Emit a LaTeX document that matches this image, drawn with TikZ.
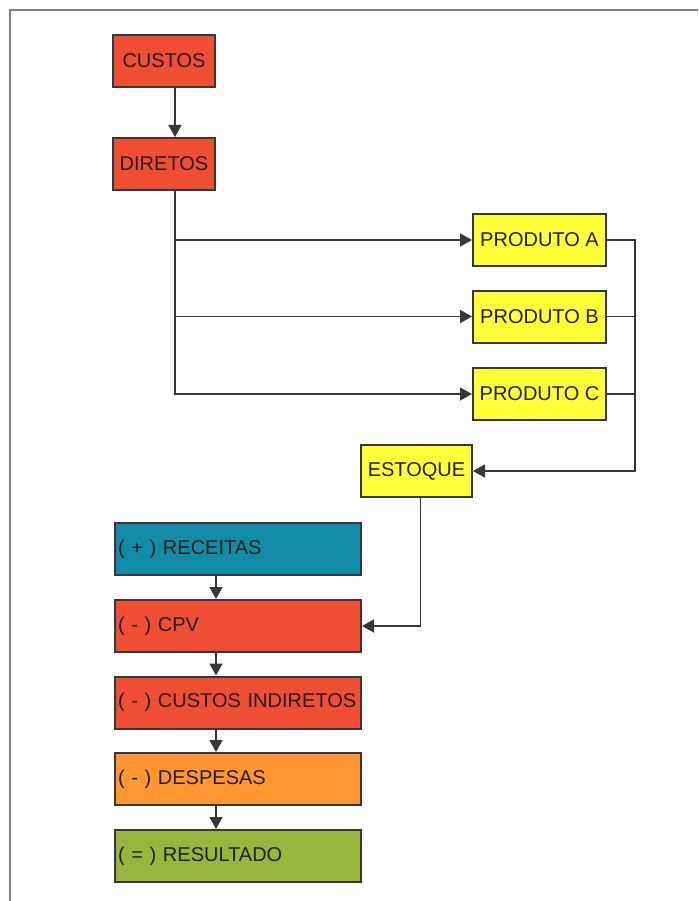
\documentclass[tikz,border=0pt]{standalone}
\usepackage{fontspec}
\setmainfont{Liberation Sans}
\usetikzlibrary{arrows.meta}
\usetikzlibrary{positioning}

\definecolor{boxred}{RGB}{240,78,52}
\definecolor{boxyellow}{RGB}{255,255,56}
\definecolor{boxteal}{RGB}{18,140,166}
\definecolor{boxorange}{RGB}{255,150,50}
\definecolor{boxgreen}{RGB}{152,182,60}
\definecolor{linegray}{RGB}{55,55,55}
\definecolor{textdark}{RGB}{35,30,30}

\tikzset{
	box/.style={rectangle,draw=linegray,line width=2pt,inner sep=0pt,
		text=textdark,font=\fontsize{20}{24}\selectfont},
	topbox/.style={box,fill=boxred,minimum width=102pt,minimum height=52pt},
	prodbox/.style={box,fill=boxyellow,minimum width=133pt,minimum height=52pt},
	dre/.style={box,minimum height=52pt,text width=240pt,inner xsep=3pt,align=left},
	arr/.style={draw=linegray,line width=1.6pt,-{Triangle[length=12pt,width=13pt]}},
	con/.style={draw=linegray,line width=1.6pt}
}

\begin{document}
\begin{tikzpicture}
	[x=1pt,y=-1pt]
	\useasboundingbox (0,0) rectangle (698,901);
	\draw[con,draw=gray] (698,10) -- (10,10) -- (10,901);

	\node[topbox] (custos) at (164,61) {CUSTOS};
	\node[topbox] (diretos) at (164,164) {DIRETOS};

	\node[prodbox] (prodA) at (539.5,240) {PRODUTO A};
	\node[prodbox] (prodB) at (539.5,316.5) {PRODUTO B};
	\node[prodbox] (prodC) at (539.5,394) {PRODUTO C};
	\node[prodbox,minimum width=111pt] (estoque) at (416.5,471) {ESTOQUE};
	\coordinate (bus) at (635,471);

	\node[dre,fill=boxteal] (rec) at (238,549) {( + ) RECEITAS};
	\node[dre,fill=boxred] (cpv) at (238,626) {( - ) CPV};
	\node[dre,fill=boxred] (ind) at (238,702.5) {( - ) CUSTOS INDIRETOS};
	\node[dre,fill=boxorange] (desp) at (238,779) {( - ) DESPESAS};
	\node[dre,fill=boxgreen] (res) at (238,856) {( = ) RESULTADO};

	\draw[arr] ([xshift=11pt]custos.south) -- ([xshift=11pt]diretos.north);
	\foreach \p in {prodA,prodB,prodC}
	\draw[arr] ([xshift=11pt]diretos.south) |- (\p.west);

	\draw[arr] (prodA.east) -| (bus) -- (estoque.east);
	\foreach \p in {prodB,prodC}
	\draw[con] (\p.east) -- (\p.east -| bus);

	\draw[arr] ([xshift=4pt]estoque.south) |- (cpv.east);

	\foreach \from/\to in {rec/cpv, cpv/ind, ind/desp, desp/res}
	\draw[arr] ([xshift=-22pt]\from.south) -- ([xshift=-22pt]\to.north);
\end{tikzpicture}
\end{document}
